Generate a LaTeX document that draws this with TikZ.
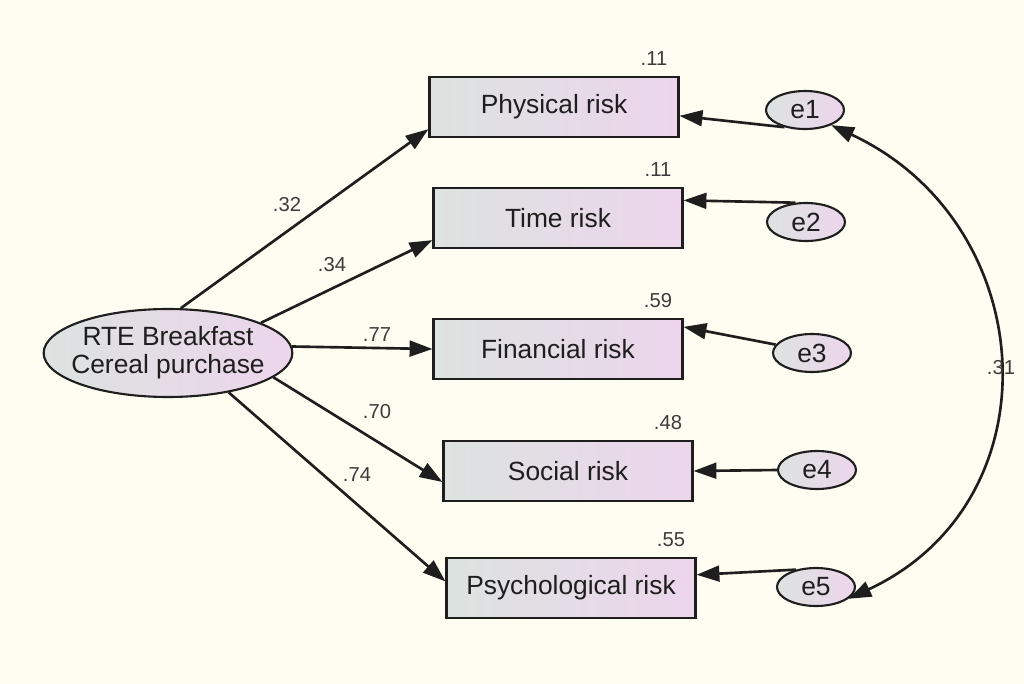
\documentclass[tikz,border=0pt]{standalone}
\usepackage{fontspec}
\setmainfont{Liberation Sans}
\usetikzlibrary{shapes,arrows.meta,positioning}
\definecolor{paper}{RGB}{253,253,242}
\definecolor{boxleft}{RGB}{220,227,224}
\definecolor{boxright}{RGB}{237,213,236}
\definecolor{ink}{RGB}{30,30,30}
\definecolor{numink}{RGB}{60,60,60}
\tikzset{
	block/.style = {draw=ink, line width=1.2pt, rectangle, left color=boxleft, right color=boxright, minimum height=1.2cm, minimum width=4.98cm, font=\fontsize{15}{17}\selectfont, text=ink},
	latent/.style = {draw=ink, line width=1.2pt, ellipse, left color=boxleft, right color=boxright, inner xsep=-5pt, inner ysep=0pt, minimum width=4.9cm, minimum height=1.76cm, align=center, font=\fontsize{15}{16}\selectfont, text=ink},
	err/.style = {draw=ink, line width=1.2pt, ellipse, left color=boxleft, right color=boxright, inner sep=0pt, minimum width=1.56cm, minimum height=0.76cm, font=\fontsize{15}{17}\selectfont, text=ink},
	val/.style = {font=\fontsize{11.5}{13}\selectfont, text=numink, inner sep=1pt},
	link/.style = {draw=ink, line width=1.5pt, ->}
}

\begin{document}
\begin{tikzpicture}[auto,>={Triangle[length=13pt,width=9pt]}]
    \path [fill=paper, use as bounding box] (0,0) rectangle (20.48,-13.68);

    \node [latent] (rte) at (3.36,-7.06) {RTE Breakfast\\Cereal purchase};

    \node [block] (physrisk) at (11.08,-2.14) {Physical risk};
    \node [block, below of=physrisk, node distance=2.22cm, xshift=0.08cm] (timerisk) {Time risk};
    \node [block, below of=timerisk, node distance=2.62cm] (finrisk) {Financial risk};
    \node [block, below of=finrisk, node distance=2.44cm, xshift=0.2cm] (socrisk) {Social risk};
    \node [block, below of=socrisk, node distance=2.34cm, xshift=0.06cm] (psyrisk) {Psychological risk};

    \node [val, above of=physrisk, node distance=0.96cm, xshift=2cm] (r2phys) {.11};
    \node [val, above of=timerisk, node distance=0.96cm, xshift=2cm] (r2time) {.11};
    \node [val, above of=finrisk, node distance=0.96cm, xshift=2cm] (r2fin) {.59};
    \node [val, above of=socrisk, node distance=0.96cm, xshift=2cm] (r2soc) {.48};
    \node [val, above of=psyrisk, node distance=0.96cm, xshift=2cm] (r2psy) {.55};

    \node [err, right of=physrisk, node distance=5.02cm, yshift=-0.06cm] (e1) {e1};
    \node [err, right of=timerisk, node distance=4.96cm, yshift=-0.08cm] (e2) {e2};
    \node [err, right of=finrisk, node distance=5.08cm, yshift=-0.08cm] (e3) {e3};
    \node [err, right of=socrisk, node distance=4.98cm, yshift=0.02cm] (e4) {e4};
    \node [err, right of=psyrisk, node distance=4.9cm, yshift=0.02cm] (e5) {e5};

    % loadings
    \draw [link] (rte.74) -- (physrisk.190);
    \draw [link] (rte.18) -- (timerisk.190);
    \draw [link] (rte.3) -- (finrisk.west);
    \draw [link] (rte.-13) -- (socrisk.185);
    \draw [link] (rte.-33) -- (psyrisk.177);

    \node [val] (w1) at (5.74,-4.1) {.32};
    \node [val] (w2) at (6.64,-5.3) {.34};
    \node [val] (w3) at (7.54,-6.7) {.77};
    \node [val] (w4) at (7.54,-8.24) {.70};
    \node [val] (w5) at (7.14,-9.5) {.74};

    % error terms
    \draw [link] (e1.220) -- (physrisk.-4);
    \draw [link] (e2.119) -- (timerisk.8);
    \draw [link] (e3.167) -- (finrisk.10);
    \draw [link] (e4.west) -- (socrisk.east);
    \draw [link] (e5.139) -- (psyrisk.6);

    \draw [link, <->] (e1.-30) to [out=-25, in=25, looseness=1.25] (e5.-20);
    \node [val] (cov) at (20.02,-7.36) {.31};
\end{tikzpicture}
\end{document}
